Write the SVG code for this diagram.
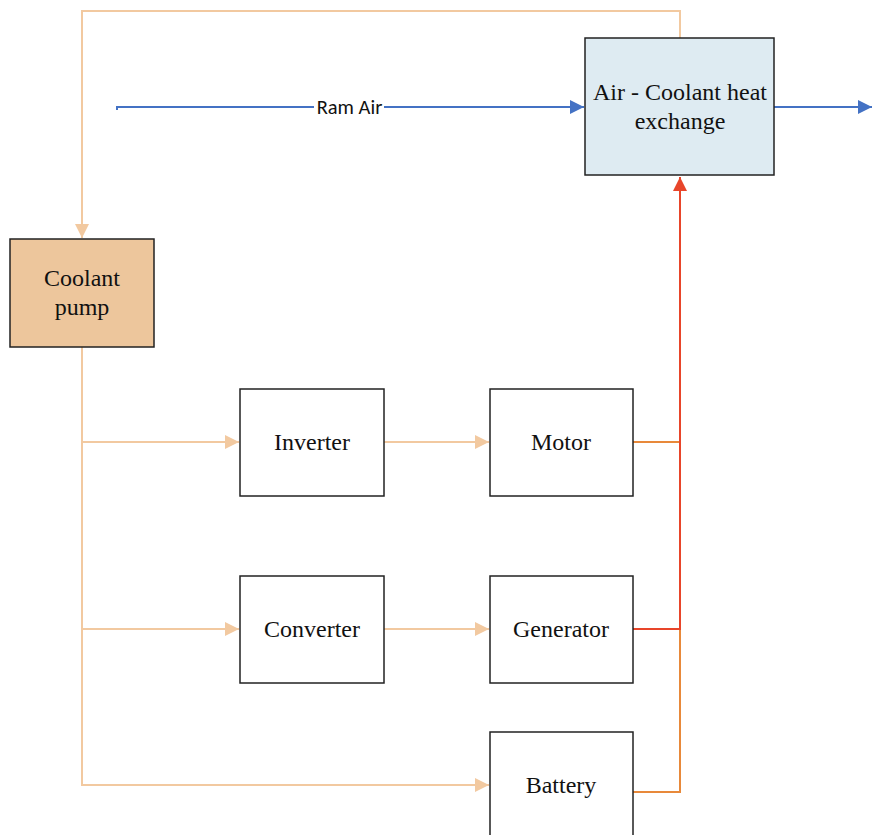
<svg xmlns="http://www.w3.org/2000/svg" width="872" height="835" viewBox="0 0 872 835">
<style>
.box{stroke:#222;stroke-width:1.5}
.lbl{font-family:"Liberation Serif",serif;font-size:24px;fill:#111;text-anchor:middle}
.cool{fill:none;stroke:#F2C9A0;stroke-width:2}
.blue{fill:none;stroke:#4472C4;stroke-width:2}
.org{fill:none;stroke:#E8893A;stroke-width:2}
.red{fill:none;stroke:#E8452A;stroke-width:2}
</style>
<defs>
<marker id="aC" viewBox="0 0 10 10" refX="10" refY="5" markerWidth="14" markerHeight="14" markerUnits="userSpaceOnUse" orient="auto"><path d="M0,0L10,5L0,10z" fill="#F2C9A0"/></marker>
<marker id="aB" viewBox="0 0 10 10" refX="10" refY="5" markerWidth="14" markerHeight="14" markerUnits="userSpaceOnUse" orient="auto"><path d="M0,0L10,5L0,10z" fill="#4472C4"/></marker>
<marker id="aR" viewBox="0 0 10 10" refX="10" refY="5" markerWidth="14" markerHeight="14" markerUnits="userSpaceOnUse" orient="auto"><path d="M0,0L10,5L0,10z" fill="#E8452A"/></marker>
</defs>
<rect width="872" height="835" fill="#fff"/>
<g id="connectors">
<path class="cool" d="M680,38V11H82V238" marker-end="url(#aC)"/>
<path class="cool" d="M82,347V785H489" marker-end="url(#aC)"/>
<path class="cool" d="M82,442H239" marker-end="url(#aC)"/>
<path class="cool" d="M82,629H239" marker-end="url(#aC)"/>
<path class="cool" d="M384,442H489" marker-end="url(#aC)"/>
<path class="cool" d="M384,629H489" marker-end="url(#aC)"/>
<path class="blue" d="M117,110V107H314"/>
<path class="blue" d="M384,107H584" marker-end="url(#aB)"/>
<path class="blue" d="M774,107H872" marker-end="url(#aB)"/>
<text x="349.5" y="113.5" font-family="Carlito,'Liberation Sans',sans-serif" font-size="20.5" fill="#111" text-anchor="middle">Ram Air</text>
<path class="org" d="M633,442H680"/>
<path class="org" d="M633,792H680V629"/>
<path class="red" d="M633,629H680V177" marker-end="url(#aR)"/>
</g>
<g id="heat-exchange"><rect class="box" x="585" y="38" width="189" height="137" fill="#DEEBF2"/><text class="lbl" x="680" y="100">Air - Coolant heat</text><text class="lbl" x="680" y="129">exchange</text></g>
<g id="coolant-pump"><rect class="box" x="10" y="239" width="144" height="108" fill="#EDC69C"/><text class="lbl" x="82" y="286">Coolant</text><text class="lbl" x="82" y="315">pump</text></g>
<g id="inverter"><rect class="box" x="240" y="389" width="144" height="107" fill="#fff"/><text class="lbl" x="312" y="450">Inverter</text></g>
<g id="motor"><rect class="box" x="490" y="389" width="143" height="107" fill="#fff"/><text class="lbl" x="561" y="450">Motor</text></g>
<g id="converter"><rect class="box" x="240" y="576" width="144" height="107" fill="#fff"/><text class="lbl" x="312" y="637">Converter</text></g>
<g id="generator"><rect class="box" x="490" y="576" width="143" height="107" fill="#fff"/><text class="lbl" x="561" y="637">Generator</text></g>
<g id="battery"><rect class="box" x="490" y="732" width="143" height="110" fill="#fff"/><text class="lbl" x="561" y="793">Battery</text></g>
</svg>
